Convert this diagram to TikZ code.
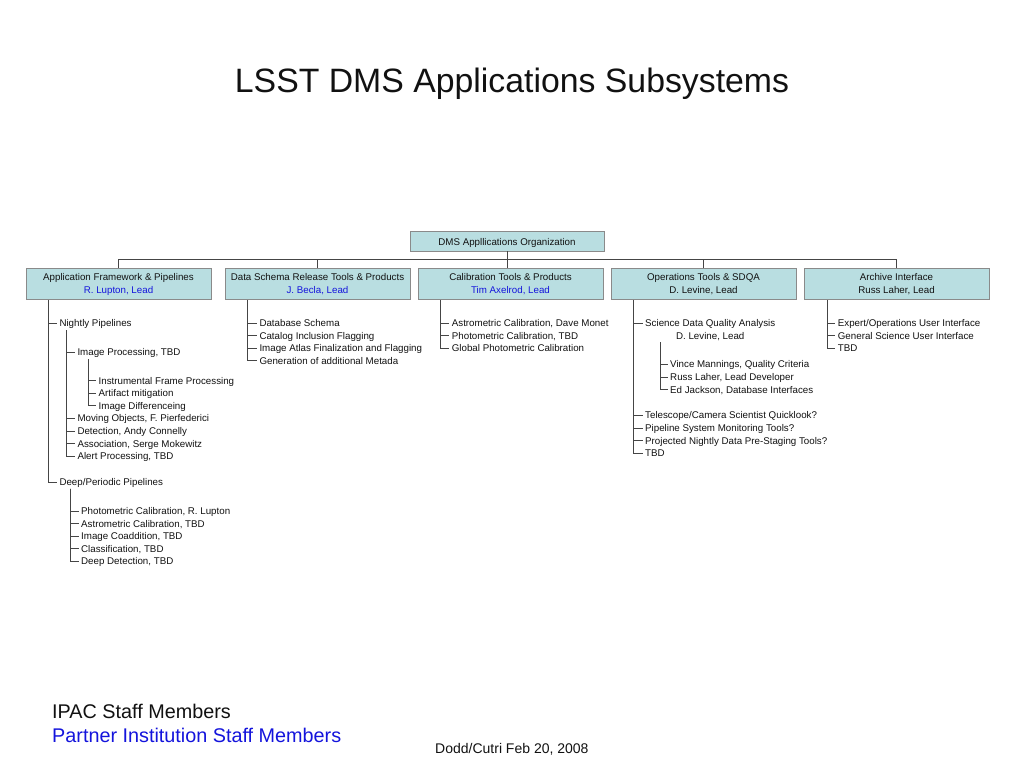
\documentclass[tikz,border=0pt]{standalone}
\usepackage{fontspec}
\setmainfont{Liberation Sans}
\definecolor{boxfill}{HTML}{B9DEE1}
\definecolor{boxline}{HTML}{8A8A8A}
\definecolor{lnk}{HTML}{454545}
\definecolor{leadblue}{HTML}{1414DC}
\definecolor{txt}{HTML}{111111}
\tikzset{
  orgbox/.style={draw=boxline, fill=boxfill, line width=0.8pt, minimum width=185pt,
    minimum height=31.5pt, inner sep=0pt, align=center, text=txt,
    font=\fontsize{9.75}{13}\selectfont, execute at begin node={\rule{0pt}{9.5pt}}},
  topbox/.style={orgbox, minimum width=194pt, minimum height=20pt,
    execute at begin node={\rule{0pt}{11pt}}},
  leaf/.style={anchor=west, inner sep=0pt, text height=8pt, text depth=1pt, text=txt,
    font=\fontsize{9.75}{12.6}\selectfont},
  tree/.style={draw=lnk, line width=0.8pt},
}
\begin{document}
\begin{tikzpicture}[x=1pt,y=-1pt]
\useasboundingbox (0,0) rectangle (1024,768);

% title
\node[anchor=base, inner sep=0pt, text=txt] (title) at (512,92)
  {\fontsize{33.8}{40}\selectfont LSST DMS Applications Subsystems};

% boxes
\node[topbox] (top) at (507,241) {DMS Appllications Organization};
\node[orgbox] (b1) at (118.5,284) {Application Framework \& Pipelines\\\textcolor{leadblue}{R. Lupton, Lead}};
\node[orgbox] (b2) at (317.5,284) {Data Schema Release Tools \& Products\\\textcolor{leadblue}{J. Becla, Lead}};
\node[orgbox] (b3) at (510.5,284) {Calibration Tools \& Products\\\textcolor{leadblue}{Tim Axelrod, Lead}};
\node[orgbox] (b4) at (703.5,284) {Operations Tools \& SDQA\\D. Levine, Lead};
\node[orgbox] (b5) at (896.5,284) {Archive Interface\\Russ Laher, Lead};

% org connectors
\coordinate (bus) at (0,259.5);
\draw[tree] (top.south) -- (top.south |- b3.north);
\draw[tree] (b1.north) -- (b1.north |- bus) -- (b5.north |- bus) -- (b5.north);
\draw[tree] (b2.north) -- (b2.north |- bus);
\draw[tree] (b4.north) -- (b4.north |- bus);

% ---------- column 1
\coordinate (t1) at ([xshift=23pt]b1.south west);
\node[leaf] (n1) at (59.3,323) {Nightly Pipelines};
\node[leaf] (n11) at (77.3,352) {Image Processing, TBD};
\node[leaf] (n111) at (98.5,380.5) {Instrumental Frame Processing};
\node[leaf] (n112) at (98.5,393) {Artifact mitigation};
\node[leaf] (n113) at (98.5,405.5) {Image Differenceing};
\node[leaf] (n12) at (77.3,418) {Moving Objects, F. Pierfederici};
\node[leaf] (n13) at (77.3,431) {Detection, Andy Connelly};
\node[leaf] (n14) at (77.3,443.5) {Association, Serge Mokewitz};
\node[leaf] (n15) at (77.3,456) {Alert Processing, TBD};
\node[leaf] (n2) at (59.3,482) {Deep/Periodic Pipelines};
\node[leaf] (n21) at (81,511) {Photometric Calibration, R. Lupton};
\node[leaf] (n22) at (81,523.5) {Astrometric Calibration, TBD};
\node[leaf] (n23) at (81,536) {Image Coaddition, TBD};
\node[leaf] (n24) at (81,548.5) {Classification, TBD};
\node[leaf] (n25) at (81,561) {Deep Detection, TBD};

\foreach \n in {n1,n2} \draw[tree] (t1) |- ([xshift=-2.5pt]\n.west);
\coordinate (s1) at ([xshift=7.5pt,yshift=-2.5pt]n1.south west);
\foreach \n in {n11,n12,n13,n14,n15} \draw[tree] (s1) |- ([xshift=-2.5pt]\n.west);
\coordinate (s11) at ([xshift=10.8pt,yshift=-2.5pt]n11.south west);
\foreach \n in {n111,n112,n113} \draw[tree] (s11) |- ([xshift=-2.5pt]\n.west);
\coordinate (s2) at ([xshift=11.4pt,yshift=-2pt]n2.south west);
\foreach \n in {n21,n22,n23,n24,n25} \draw[tree] (s2) |- ([xshift=-2.5pt]\n.west);

% ---------- column 2
\coordinate (t2) at ([xshift=23pt]b2.south west);
\node[leaf] (d1) at (259.3,323) {Database Schema};
\node[leaf] (d2) at (259.3,335.5) {Catalog Inclusion Flagging};
\node[leaf] (d3) at (259.3,348) {Image Atlas Finalization and Flagging};
\node[leaf] (d4) at (259.3,360.5) {Generation of additional Metada};
\foreach \n in {d1,d2,d3,d4} \draw[tree] (t2) |- ([xshift=-2.5pt]\n.west);

% ---------- column 3
\coordinate (t3) at ([xshift=23pt]b3.south west);
\node[leaf] (c1) at (451.7,323) {Astrometric Calibration, Dave Monet};
\node[leaf] (c2) at (451.7,335.5) {Photometric Calibration, TBD};
\node[leaf] (c3) at (451.7,348) {Global Photometric Calibration};
\foreach \n in {c1,c2,c3} \draw[tree] (t3) |- ([xshift=-2.5pt]\n.west);

% ---------- column 4
\coordinate (t4) at ([xshift=23pt]b4.south west);
\node[anchor=north west, inner sep=0pt, align=center, text=txt,
  font=\fontsize{9.75}{12.6}\selectfont] (sdqa) at (645,319.4)
  {Science Data Quality Analysis\\D. Levine, Lead};
\node[leaf] (o1) at (670,364) {Vince Mannings, Quality Criteria};
\node[leaf] (o2) at (670,377) {Russ Laher, Lead Developer};
\node[leaf] (o3) at (670,389.5) {Ed Jackson, Database Interfaces};
\node[leaf] (o4) at (645,415) {Telescope/Camera Scientist Quicklook?};
\node[leaf] (o5) at (645,428) {Pipeline System Monitoring Tools?};
\node[leaf] (o6) at (645,440.5) {Projected Nightly Data Pre-Staging Tools?};
\node[leaf] (o7) at (645,453) {TBD};
\draw[tree] (t4) |- ([xshift=-2.5pt,yshift=-3.6pt]sdqa.north west);
\foreach \n in {o4,o5,o6,o7} \draw[tree] (t4) |- ([xshift=-2.5pt]\n.west);
\coordinate (s4) at ([xshift=15pt,yshift=-1.3pt]sdqa.south west);
\foreach \n in {o1,o2,o3} \draw[tree] (s4) |- ([xshift=-2.5pt]\n.west);

% ---------- column 5
\coordinate (t5) at ([xshift=23.5pt]b5.south west);
\node[leaf] (a1) at (837.7,323) {Expert/Operations User Interface};
\node[leaf] (a2) at (837.7,335.5) {General Science User Interface};
\node[leaf] (a3) at (837.7,348) {TBD};
\foreach \n in {a1,a2,a3} \draw[tree] (t5) |- ([xshift=-2.5pt]\n.west);

% legend and footer
\node[anchor=base west, inner sep=0pt, text=txt, font=\fontsize{19.8}{24}\selectfont] (ipac) at (52,718) {IPAC Staff Members};
\node[anchor=base west, inner sep=0pt, text=leadblue, font=\fontsize{19.8}{24}\selectfont] (partner) at (52,742) {Partner Institution Staff Members};
\node[anchor=base west, inner sep=0pt, text=txt, font=\fontsize{14}{17}\selectfont] (date) at (435,753) {Dodd/Cutri Feb 20, 2008};
\end{tikzpicture}
\end{document}
